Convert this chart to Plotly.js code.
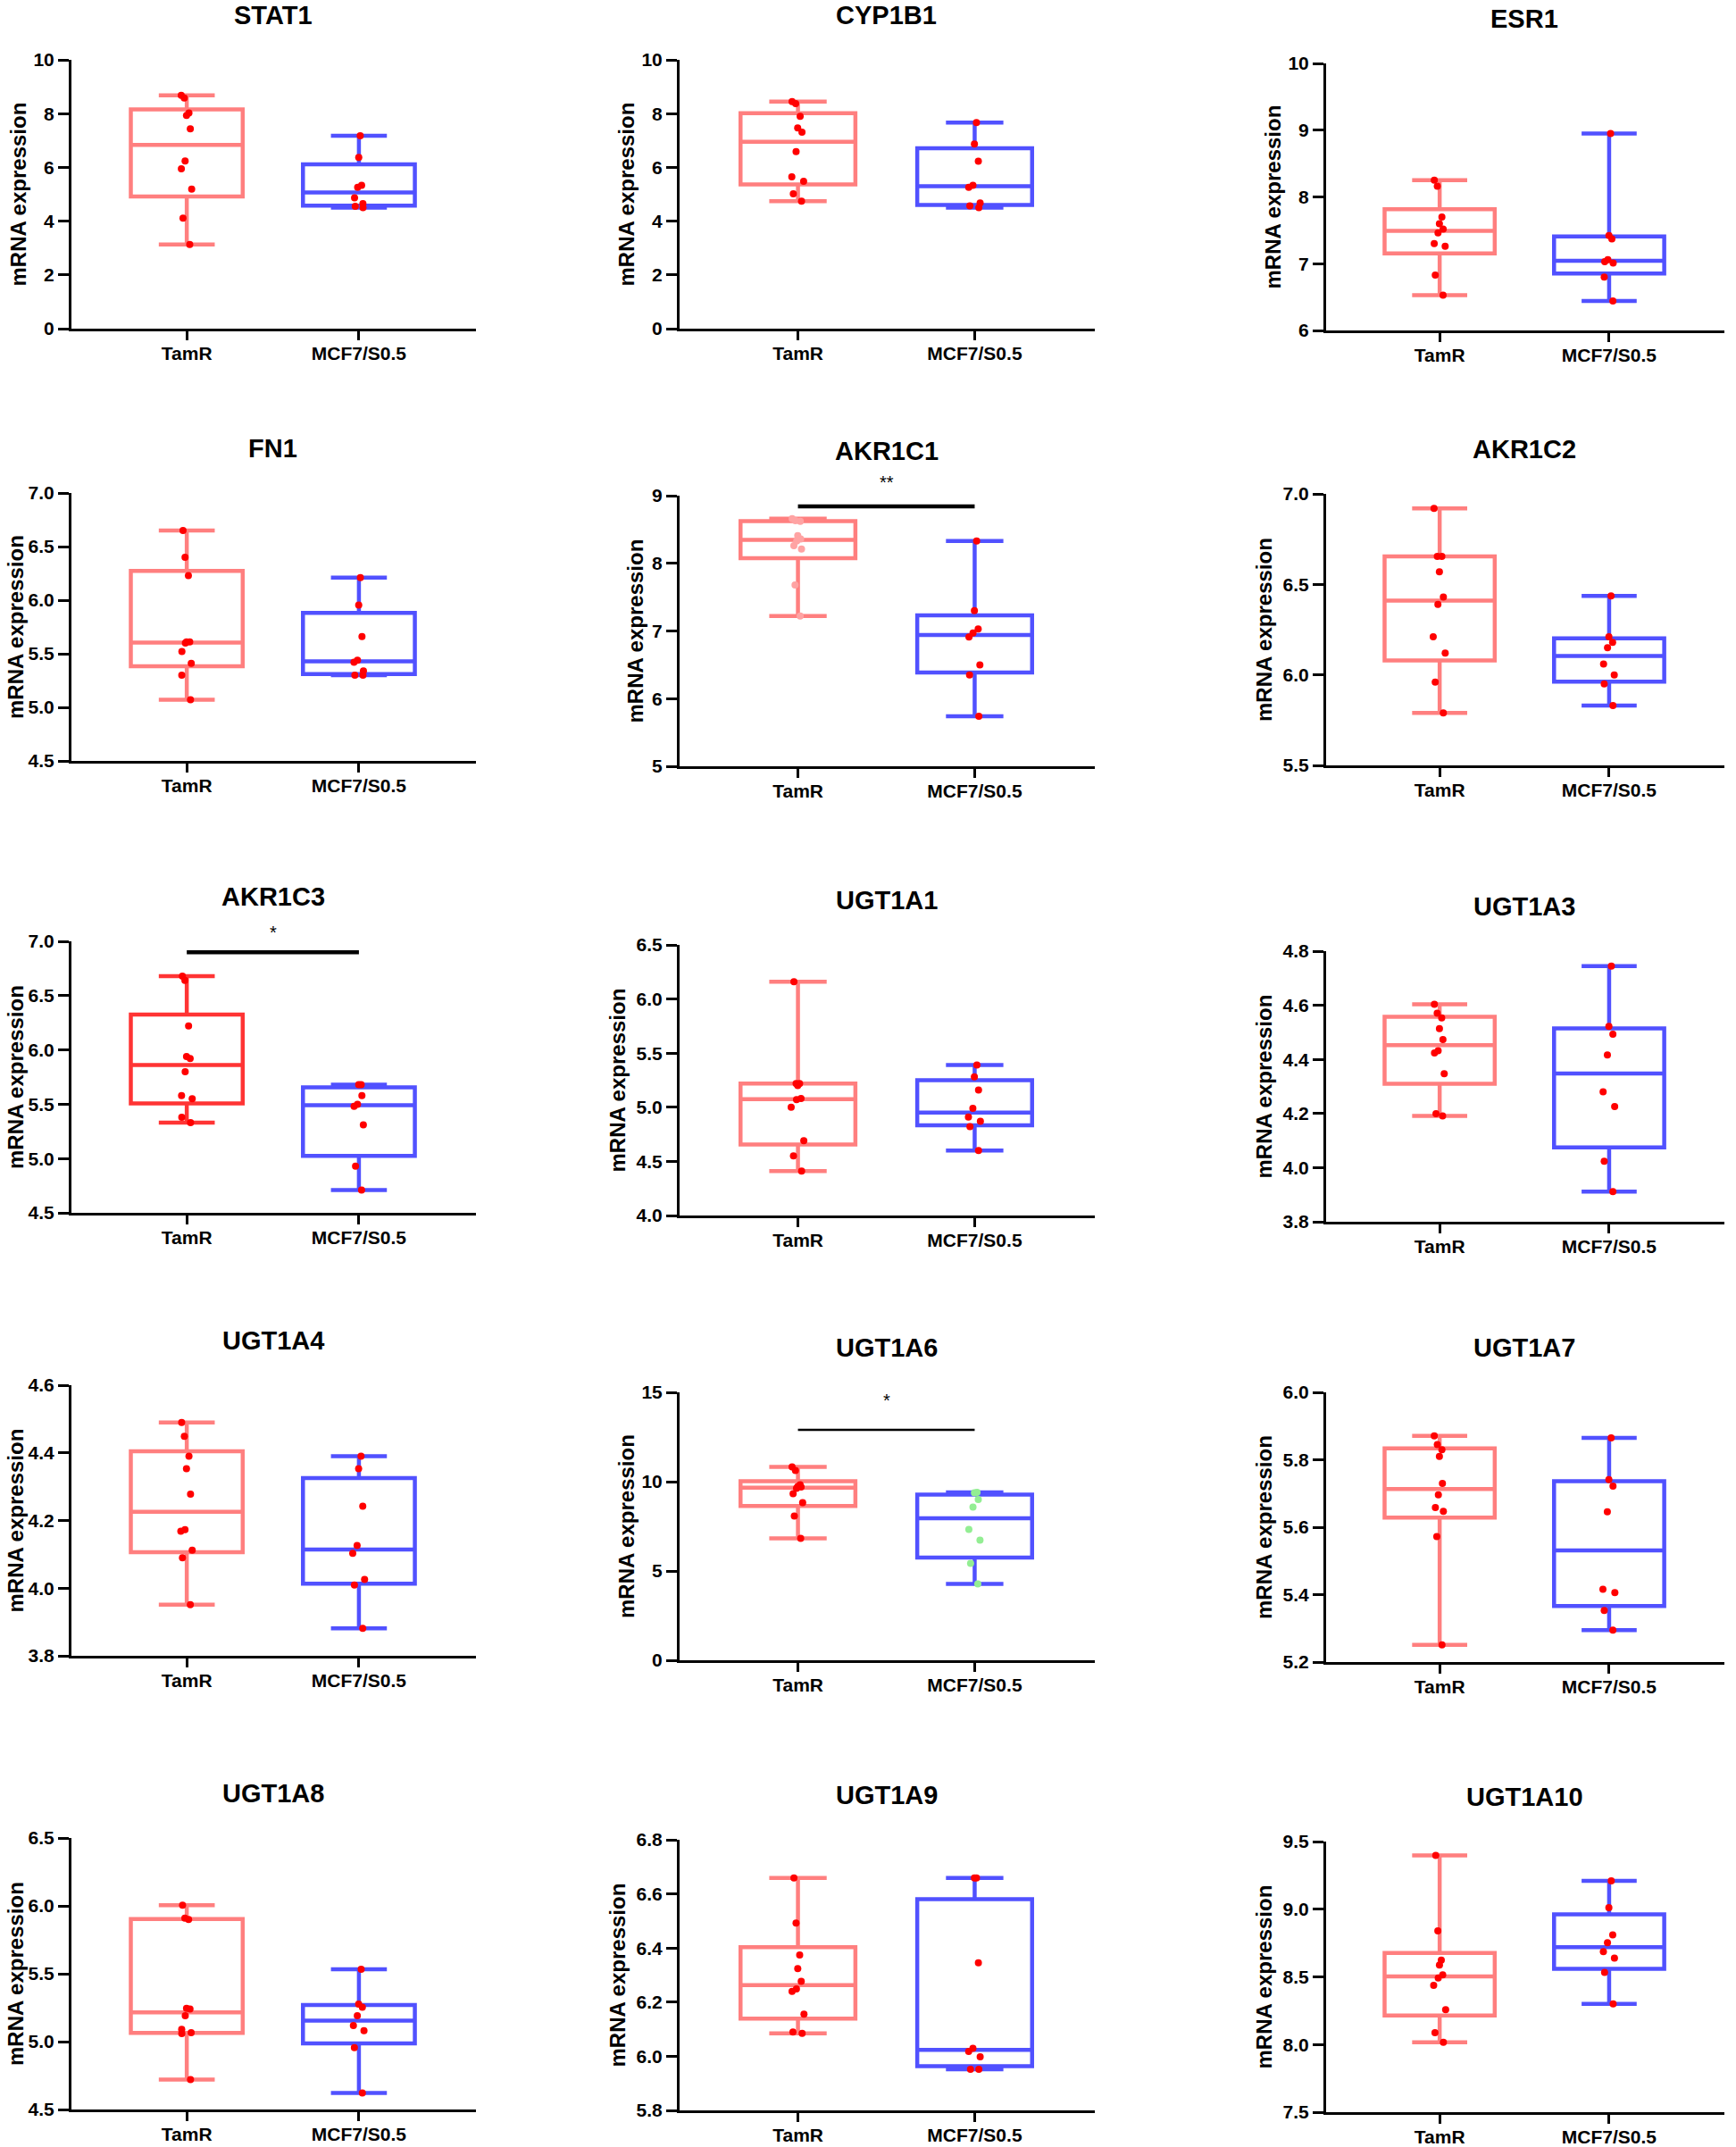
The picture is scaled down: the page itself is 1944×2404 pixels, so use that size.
<!DOCTYPE html>
<html>
<head>
<meta charset="utf-8">
<script src="https://cdn.plot.ly/plotly-3.0.1.min.js"></script>
<style>
  html, body { margin: 0; padding: 0; background: #ffffff; }
  #chart { width: 1944px; height: 2404px; }
</style>
</head>
<body>
<div id="chart"></div>
<script>
// ---------------- DATA ----------------
const groups = ['TamR', 'MCF7/S0.5'];
const genes = ['STAT1', 'CYP1B1', 'ESR1', 'FN1', 'AKR1C1', 'AKR1C2', 'AKR1C3', 'UGT1A1',
               'UGT1A3', 'UGT1A4', 'UGT1A6', 'UGT1A7', 'UGT1A8', 'UGT1A9', 'UGT1A10'];
const yTitle = 'mRNA expression';

const tamr_STAT1   = [8.68, 8.58, 8.02, 7.93, 7.43, 6.24, 5.95, 5.19, 4.11, 3.13];
const mcf7_STAT1   = [7.18, 6.37, 5.33, 5.26, 4.87, 4.65, 4.55, 4.50];
const tamr_CYP1B1  = [8.45, 8.37, 7.90, 7.47, 7.31, 6.59, 5.65, 5.48, 5.02, 4.74];
const mcf7_CYP1B1  = [7.67, 6.87, 6.23, 5.33, 5.26, 4.68, 4.57, 4.50];
const tamr_ESR1    = [8.25, 8.16, 7.70, 7.60, 7.52, 7.46, 7.30, 7.26, 6.83, 6.53];
const mcf7_ESR1    = [8.95, 7.42, 7.37, 7.06, 7.03, 7.01, 6.80, 6.44];
const tamr_FN1     = [6.65, 6.40, 6.23, 5.61, 5.60, 5.61, 5.52, 5.41, 5.30, 5.07];
const mcf7_FN1     = [6.21, 5.955, 5.66, 5.44, 5.42, 5.34, 5.30, 5.30];
const tamr_AKR1C1  = [8.66, 8.63, 8.62, 8.41, 8.36, 8.33, 8.26, 8.21, 7.68, 7.22];
const mcf7_AKR1C1  = [8.33, 7.30, 7.03, 6.97, 6.91, 6.50, 6.35, 5.74];
const tamr_AKR1C2  = [6.92, 6.655, 6.655, 6.57, 6.43, 6.39, 6.21, 6.12, 5.96, 5.79];
const mcf7_AKR1C2  = [6.436, 6.21, 6.18, 6.15, 6.06, 6.00, 5.95, 5.83];
const tamr_AKR1C3  = [6.68, 6.64, 6.22, 5.94, 5.92, 5.80, 5.58, 5.55, 5.38, 5.33];
const mcf7_AKR1C3  = [5.68, 5.68, 5.58, 5.50, 5.48, 5.31, 4.93, 4.71];
const tamr_UGT1A1  = [6.16, 5.22, 5.22, 5.20, 5.08, 5.07, 5.00, 4.69, 4.55, 4.41];
const mcf7_UGT1A1  = [5.39, 5.28, 5.16, 4.99, 4.91, 4.87, 4.82, 4.60];
const tamr_UGT1A3  = [4.604, 4.571, 4.553, 4.514, 4.473, 4.432, 4.424, 4.347, 4.199, 4.191];
const mcf7_UGT1A3  = [4.745, 4.522, 4.493, 4.416, 4.280, 4.226, 4.024, 3.911];
const tamr_UGT1A4  = [4.49, 4.449, 4.39, 4.353, 4.278, 4.173, 4.168, 4.112, 4.09, 3.951];
const mcf7_UGT1A4  = [4.39, 4.353, 4.242, 4.126, 4.103, 4.026, 4.009, 3.881];
const tamr_UGT1A6  = [10.83, 10.62, 9.82, 9.72, 9.70, 9.62, 9.32, 8.82, 8.08, 6.82];
const mcf7_UGT1A6  = [9.40, 9.37, 9.00, 8.58, 7.33, 6.73, 5.42, 4.28];
const tamr_UGT1A7  = [5.871, 5.845, 5.83, 5.81, 5.73, 5.696, 5.658, 5.647, 5.572, 5.251];
const mcf7_UGT1A7  = [5.865, 5.741, 5.722, 5.646, 5.416, 5.406, 5.353, 5.295];
const tamr_UGT1A8  = [6.005, 5.91, 5.90, 5.245, 5.24, 5.19, 5.09, 5.065, 5.06, 4.72];
const mcf7_UGT1A8  = [5.533, 5.276, 5.254, 5.19, 5.118, 5.08, 4.955, 4.621];
const tamr_UGT1A9  = [6.659, 6.492, 6.374, 6.324, 6.277, 6.249, 6.24, 6.156, 6.09, 6.085];
const mcf7_UGT1A9  = [6.659, 6.659, 6.345, 6.029, 6.018, 5.998, 5.952, 5.952];
const tamr_UGT1A10 = [9.397, 8.84, 8.623, 8.588, 8.515, 8.491, 8.438, 8.258, 8.087, 8.016];
const mcf7_UGT1A10 = [9.21, 9.012, 8.81, 8.753, 8.687, 8.638, 8.533, 8.30];

// y-axis ranges and tick steps (tick labels)
const yRanges = [[0, 10], [0, 10], [6, 10], [4.5, 7.0], [5, 9], [5.5, 7.0], [4.5, 7.0], [4.0, 6.5],
                 [3.8, 4.8], [3.8, 4.6], [0, 15], [5.2, 6.0], [4.5, 6.5], [5.8, 6.8], [7.5, 9.5]];
const yDticks = [2, 2, 1, 0.5, 1, 0.5, 0.5, 0.5, 0.2, 0.2, 5, 0.2, 0.5, 0.2, 0.5];

// significance brackets: gene, bar level, label, label level
const sigGenes  = ['AKR1C1', 'AKR1C3', 'UGT1A6'];
const sigBarY   = [8.84, 6.90, 12.9];
const sigLabels = ['**', '*', '*'];
const sigLabelY = [9.26, 7.12, 14.8];

const dataTamR = [tamr_STAT1, tamr_CYP1B1, tamr_ESR1, tamr_FN1, tamr_AKR1C1, tamr_AKR1C2, tamr_AKR1C3,
  tamr_UGT1A1, tamr_UGT1A3, tamr_UGT1A4, tamr_UGT1A6, tamr_UGT1A7, tamr_UGT1A8, tamr_UGT1A9, tamr_UGT1A10];
const dataMCF7 = [mcf7_STAT1, mcf7_CYP1B1, mcf7_ESR1, mcf7_FN1, mcf7_AKR1C1, mcf7_AKR1C2, mcf7_AKR1C3,
  mcf7_UGT1A1, mcf7_UGT1A3, mcf7_UGT1A4, mcf7_UGT1A6, mcf7_UGT1A7, mcf7_UGT1A8, mcf7_UGT1A9, mcf7_UGT1A10];

// ---------------- STYLE / LAYOUT ----------------
const FONT = 'Liberation Sans, Arial, Helvetica, sans-serif';
const W = 1944, H = 2404;
const colPx = [[80, 533], [761, 1226], [1485, 1931]];
const rowPx = [[67, 368], [67, 368], [71, 370],
               [552, 852], [555, 858], [553, 857],
               [1054, 1358], [1058, 1361], [1065, 1368],
               [1551, 1854], [1559, 1859], [1559, 1861],
               [2058, 2362], [2060, 2363], [2062, 2365]];

const PINK = '#ff7f7f', RED_BOX = '#ff3434', BLUE = '#5151ff';
const PT_RED = '#ff0000', PT_PINK = '#ffa3a3', PT_GREEN = '#93ee93';

function prismPct(vals, p) {
  const s = vals.slice().sort((a, b) => a - b);
  const n = s.length;
  const r = p * (n + 1);
  if (r <= 1) return s[0];
  if (r >= n) return s[n - 1];
  const i = Math.floor(r), f = r - i;
  return s[i - 1] + f * (s[i] - s[i - 1]);
}

const traces = [];
const layout = {
  width: W, height: H,
  margin: {l: 0, r: 0, t: 0, b: 0},
  paper_bgcolor: '#ffffff', plot_bgcolor: 'rgba(0,0,0,0)',
  showlegend: false,
  font: {family: FONT, color: '#000000'},
  annotations: [], shapes: []
};

genes.forEach((gene, k) => {
  const idx = k + 1;
  const xa = 'x' + (idx === 1 ? '' : idx);
  const ya = 'y' + (idx === 1 ? '' : idx);
  const xKey = 'xaxis' + (idx === 1 ? '' : idx);
  const yKey = 'yaxis' + (idx === 1 ? '' : idx);
  const col = k % 3;
  const [x0, x1] = colPx[col];
  const [t, b] = rowPx[k];

  const boxColors = [gene === 'AKR1C3' ? RED_BOX : PINK, BLUE];
  const ptColors = [gene === 'AKR1C1' ? PT_PINK : PT_RED, gene === 'UGT1A6' ? PT_GREEN : PT_RED];
  const sets = [dataTamR[k], dataMCF7[k]];

  sets.forEach((vals, g) => {
    // box + min/max whiskers (Prism-style quartiles)
    traces.push({
      type: 'box', xaxis: xa, yaxis: ya,
      x: [groups[g]],
      q1: [prismPct(vals, 0.25)],
      median: [prismPct(vals, 0.5)],
      q3: [prismPct(vals, 0.75)],
      lowerfence: [Math.min(...vals)],
      upperfence: [Math.max(...vals)],
      boxpoints: false,
      width: 0.65, whiskerwidth: 0.5,
      line: {color: boxColors[g], width: 4.5},
      fillcolor: 'rgba(255,255,255,0)',
      hoverinfo: 'skip'
    });
    // individual samples
    traces.push({
      type: 'box', xaxis: xa, yaxis: ya,
      x: vals.map(() => groups[g]),
      y: vals,
      boxpoints: 'all', jitter: 0.14, pointpos: 0,
      width: 0.65, whiskerwidth: 0,
      line: {color: 'rgba(0,0,0,0)', width: 0},
      fillcolor: 'rgba(0,0,0,0)',
      marker: {color: ptColors[g], size: 8, line: {width: 0}}
    });
  });

  const rng = yRanges[k];
  const dt = yDticks[k];
  const isInt = Number.isInteger(dt);

  layout[xKey] = {
    domain: [x0 / W, x1 / W],
    anchor: ya,
    type: 'category', categoryorder: 'array', categoryarray: groups,
    range: [-0.67, 1.68],
    showline: true, linewidth: 3, linecolor: '#000000',
    ticks: 'outside', ticklen: 10, tickwidth: 3, tickcolor: '#000000',
    ticklabelstandoff: -3,
    tickfont: {family: FONT, size: 21, color: '#000000', weight: 'bold'},
    showgrid: false, zeroline: false, fixedrange: true
  };
  layout[yKey] = {
    domain: [1 - b / H, 1 - t / H],
    anchor: xa,
    range: rng, tick0: rng[0], dtick: dt,
    tickformat: isInt ? 'd' : '.1f',
    showline: true, linewidth: 3, linecolor: '#000000',
    ticks: 'outside', ticklen: 12, tickwidth: 3, tickcolor: '#000000',
    tickfont: {family: FONT, size: 21, color: '#000000', weight: 'bold'},
    showgrid: false, zeroline: false, fixedrange: true
  };

  // panel title
  layout.annotations.push({
    xref: xa, x: 0.5, yref: ya + ' domain', y: 1, yshift: 50,
    xanchor: 'center', yanchor: 'middle', showarrow: false,
    text: gene, font: {family: FONT, size: 29, color: '#000000', weight: 'bold'}
  });
  // y-axis title, offset by width of tick labels, kept inside the page
  const maxLabel = isInt ? String(rng[1]) : rng[1].toFixed(1);
  let shift = -(40 + 10 * maxLabel.length);
  if (x0 + shift < 17) shift = 17 - x0;
  layout.annotations.push({
    xref: xa + ' domain', x: 0, xshift: shift,
    yref: ya + ' domain', y: 0.5,
    xanchor: 'center', yanchor: 'middle', textangle: -90, showarrow: false,
    text: yTitle, font: {family: FONT, size: 24, color: '#000000', weight: 'bold'}
  });

  const s = sigGenes.indexOf(gene);
  if (s >= 0) {
    layout.shapes.push({
      type: 'line', xref: xa, yref: ya,
      x0: 0, x1: 1, y0: sigBarY[s], y1: sigBarY[s],
      line: {color: '#000000', width: gene === 'UGT1A6' ? 2.5 : 4.5}
    });
    layout.annotations.push({
      xref: xa, x: 0.5,
      yref: ya + ' domain', y: (sigLabelY[s] - rng[0]) / (rng[1] - rng[0]), yshift: -5,
      xanchor: 'center', yanchor: 'middle', showarrow: false,
      text: sigLabels[s], font: {family: FONT, size: 20, color: '#000000'}
    });
  }
});

Plotly.newPlot('chart', traces, layout, {staticPlot: true, displayModeBar: false});
</script>
</body>
</html>
